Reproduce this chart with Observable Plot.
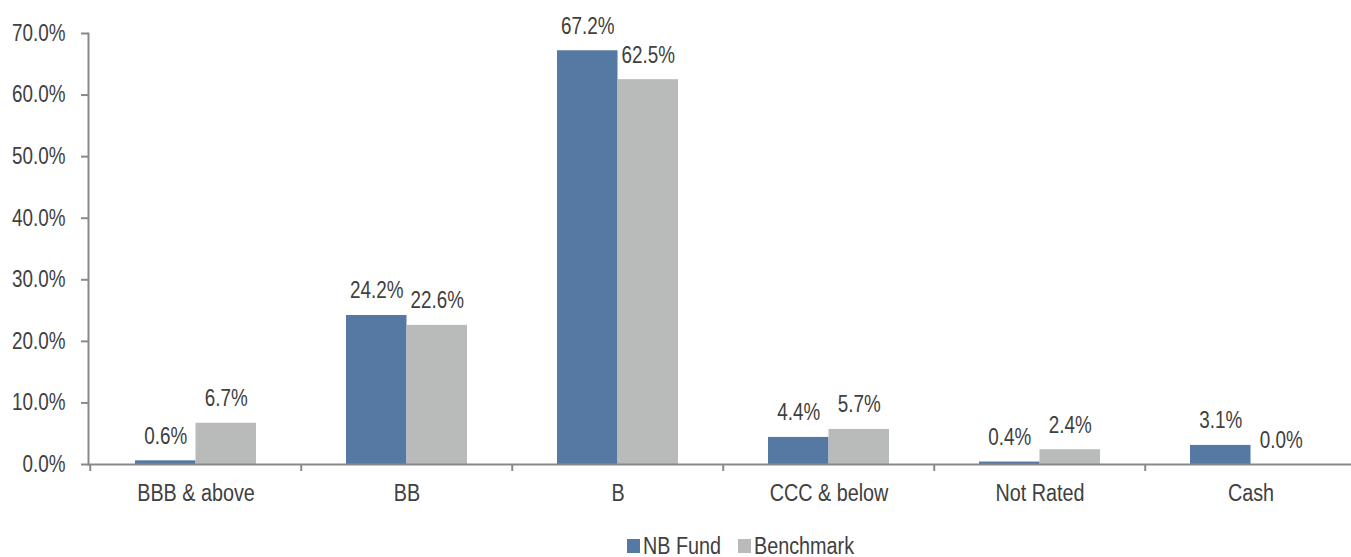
<!DOCTYPE html>
<html>
<head>
<meta charset="utf-8">
<script src="https://cdn.jsdelivr.net/npm/d3@7"></script>
<script src="https://cdn.jsdelivr.net/npm/@observablehq/plot@0.6"></script>
<style>
  html, body { margin: 0; padding: 0; background: #fff; }
  body { width: 1351px; height: 557px; overflow: hidden; position: relative; font-family: "Liberation Sans", Arial, sans-serif; color: #404040; }
  #legend { position: absolute; left: 627px; top: 533px; display: flex; align-items: center; font-size: 23px; line-height: 26px; white-space: nowrap; }
  #legend .item { display: flex; align-items: center; flex: none; }
  #legend .sw { flex: none; display: inline-block; width: 13px; height: 14px; margin-right: 3px; }
  #legend .lab { display: inline-block; transform: scaleX(0.86); transform-origin: left center; }
</style>
</head>
<body>
<div id="chart"></div>
<div id="legend"></div>
<script>
const categories = ["BBB & above", "BB", "B", "CCC & below", "Not Rated", "Cash"];
const series = ["NB Fund", "Benchmark"];
const nbFund = [0.6, 24.2, 67.2, 4.4, 0.4, 3.1];
const benchmark = [6.7, 22.6, 62.5, 5.7, 2.4, 0.0];
const yTicks = [0, 10, 20, 30, 40, 50, 60, 70];
const colors = ["#5579A3", "#B9BABA"];

const rows = categories.flatMap((c, i) => [
  {category: c, series: series[0], value: nbFund[i]},
  {category: c, series: series[1], value: benchmark[i]}
]);
const fundRows = rows.filter(d => d.series === series[0]);
const benchRows = rows.filter(d => d.series === series[1]);

const W = 1351, H = 520, ML = 88, MR = -6;
const step = (W - ML - MR) / categories.length;
const pIn = 0.428;
const bw = step * (1 - pIn);
const fmt = d => d.toFixed(1) + "%";
const textColor = "#404040";
const axisColor = "#898989";
const fs = 23;

const chart = Plot.plot({
  width: W,
  height: H,
  marginLeft: ML,
  marginRight: MR,
  marginTop: 33,
  marginBottom: H - 464,
  style: {fontFamily: "'Liberation Sans', Arial, sans-serif", color: textColor, background: "#fff", overflow: "visible"},
  x: {type: "band", domain: categories, paddingInner: pIn, paddingOuter: pIn / 2, axis: null, label: null},
  y: {domain: [0, 70], axis: null, label: null},
  marks: [
    Plot.barY(fundRows, {x: "category", y: "value", fill: colors[0], insetRight: bw / 2}),
    Plot.barY(benchRows, {x: "category", y: "value", fill: colors[1], insetLeft: bw / 2}),
    Plot.text(fundRows, {x: "category", y: "value", text: d => fmt(d.value), dx: -bw / 4, dy: -17, lineAnchor: "bottom", fontSize: fs, fill: textColor}),
    Plot.text(benchRows, {x: "category", y: "value", text: d => fmt(d.value), dx: bw / 4, dy: -17, lineAnchor: "bottom", fontSize: fs, fill: textColor}),
    Plot.ruleY([0], {stroke: axisColor, strokeWidth: 2}),
    Plot.frame({anchor: "left", stroke: axisColor, strokeWidth: 2}),
    Plot.axisY({ticks: yTicks, tickFormat: fmt, tickSize: 7, tickPadding: 16, stroke: axisColor, strokeWidth: 2, fontSize: fs, fill: textColor, label: null}),
    Plot.axisX({tickSize: 7, tickFormat: () => "", dx: -step / 2, stroke: axisColor, strokeWidth: 2, label: null}),
    Plot.axisX({tickSize: 0, tickPadding: 20, fontSize: fs, fill: textColor, label: null})
  ]
});
// condense glyphs horizontally (reference uses a narrow typeface)
chart.querySelectorAll("text").forEach(t => {
  const s = /[A-Za-z]/.test(t.textContent) ? 0.86 : 0.82;
  const tr = t.getAttribute("transform");
  if (tr) {
    t.setAttribute("transform", tr + ` scale(${s},1)`);
  } else {
    const x = +(t.getAttribute("x") || 0), y = +(t.getAttribute("y") || 0);
    t.removeAttribute("x"); t.removeAttribute("y");
    t.setAttribute("transform", `translate(${x},${y}) scale(${s},1)`);
  }
});
document.getElementById("chart").appendChild(chart);

const legend = document.getElementById("legend");
const itemWidths = [111, 125];
series.forEach((s, i) => {
  const item = document.createElement("div");
  item.className = "item";
  item.style.width = itemWidths[i] + "px";
  const sw = document.createElement("span");
  sw.className = "sw";
  sw.style.background = colors[i];
  const label = document.createElement("span");
  label.className = "lab";
  label.textContent = s;
  item.appendChild(sw);
  item.appendChild(label);
  legend.appendChild(item);
});
</script>
</body>
</html>
